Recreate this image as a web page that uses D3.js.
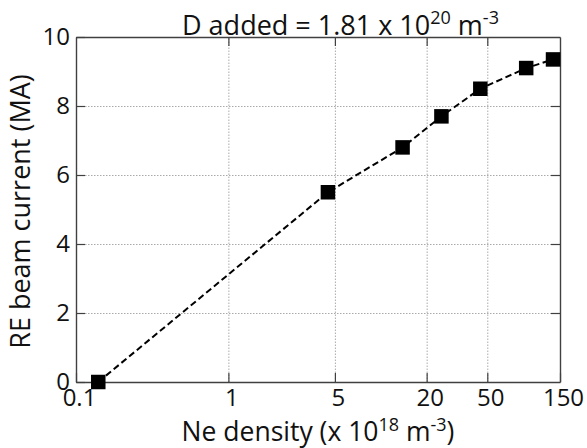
<!DOCTYPE html>
<html>
<head>
<meta charset="utf-8">
<script src="https://cdn.jsdelivr.net/npm/d3@7"></script>
<style>
  html, body { margin: 0; padding: 0; background: #fff; }
  svg { display: block; font-family: "Open Sans", "Noto Sans", sans-serif; }
</style>
</head>
<body>
<svg id="chart" width="587" height="448"></svg>
<script>
// Ne density (x 1e18 m^-3) and resulting RE beam current (MA)
const neDensity   = [0.14, 4.5, 13.9, 25, 45, 90, 135];
const beamCurrent = [0, 5.5, 6.8, 7.7, 8.5, 9.1, 9.35];

const xTickValues = [0.1, 1, 5, 20, 50, 150];
const yTickValues = [0, 2, 4, 6, 8, 10];
const xGridValues = [1, 5, 20, 50];
const yGridValues = [2, 4, 6, 8];

const W = 587, H = 448;
const margin = { top: 37, right: 27, bottom: 66, left: 76 };
const iw = W - margin.left - margin.right;
const ih = H - margin.top - margin.bottom;

const svg = d3.select("#chart");
const g = svg.append("g").attr("transform", `translate(${margin.left},${margin.top})`);

const x = d3.scaleLog().domain([0.1, 150]).range([0, iw]);
const y = d3.scaleLinear().domain([0, 10]).range([ih, 0]);

// dotted grid
const gridX = g.append("g")
  .attr("transform", `translate(0,${ih})`)
  .call(d3.axisBottom(x).tickValues(xGridValues).tickSize(-ih).tickFormat(""));
const gridY = g.append("g")
  .call(d3.axisLeft(y).tickValues(yGridValues).tickSize(-iw).tickFormat(""));
[gridX, gridY].forEach(gr => {
  gr.select(".domain").remove();
  gr.selectAll("line").attr("stroke", "#aaa").attr("stroke-width", 1).attr("stroke-dasharray", "1.5,1.5");
});

// frame axes with inward ticks
const tickLen = 9;
const axB = g.append("g").attr("transform", `translate(0,${ih})`)
  .call(d3.axisBottom(x).tickValues(xTickValues).tickFormat(d3.format("~g"))
    .tickSizeInner(-tickLen).tickSizeOuter(0).tickPadding(7));
const axT = g.append("g")
  .call(d3.axisTop(x).tickValues(xGridValues).tickFormat("")
    .tickSizeInner(-tickLen).tickSizeOuter(0));
const axL = g.append("g")
  .call(d3.axisLeft(y).tickValues(yTickValues).tickFormat(d3.format("d"))
    .tickSizeInner(-tickLen).tickSizeOuter(0).tickPadding(6));
const axR = g.append("g").attr("transform", `translate(${iw},0)`)
  .call(d3.axisRight(y).tickValues(yGridValues).tickFormat("")
    .tickSizeInner(-tickLen).tickSizeOuter(0));

[axB, axT, axL, axR].forEach(a => {
  a.select(".domain").attr("stroke", "#404040").attr("stroke-width", 1.4);
  a.selectAll(".tick line").attr("stroke", "#404040").attr("stroke-width", 1.2);
  a.selectAll(".tick text").attr("fill", "#111").style("font-size", "24px")
    .style("font-family", "'Open Sans', sans-serif");
});
axB.selectAll(".tick text").attr("dx", 3);

// data line and square markers
const pts = neDensity.map((v, i) => [v, beamCurrent[i]]);
g.append("path")
  .datum(pts)
  .attr("fill", "none")
  .attr("stroke", "#000")
  .attr("stroke-width", 2)
  .attr("stroke-dasharray", "6.5,3.5")
  .attr("d", d3.line().x(d => x(d[0])).y(d => y(d[1])));

const ms = 14.5;
g.selectAll("rect.marker")
  .data(pts)
  .join("rect")
  .attr("class", "marker")
  .attr("x", d => x(d[0]) - ms / 2)
  .attr("y", d => y(d[1]) - ms / 2)
  .attr("width", ms)
  .attr("height", ms)
  .attr("fill", "#000");

// title
const title = svg.append("text")
  .attr("x", 182).attr("y", 35)
  .attr("fill", "#111")
  .style("font-size", "27px");
title.append("tspan").text("D added = 1.81 x 10");
title.append("tspan").attr("dy", -11).style("font-size", "18px").text("20");
title.append("tspan").attr("dy", 11).text(" m");
title.append("tspan").attr("dy", -11).style("font-size", "18px").text("-3");

// x-axis label
const xl = svg.append("text")
  .attr("x", margin.left + iw / 2).attr("y", 441)
  .attr("text-anchor", "middle")
  .attr("fill", "#111")
  .style("font-size", "26.5px");
xl.append("tspan").text("Ne density (x 10");
xl.append("tspan").attr("dy", -10).style("font-size", "18px").text("18");
xl.append("tspan").attr("dy", 10).text(" m");
xl.append("tspan").attr("dy", -10).style("font-size", "18px").text("-3");
xl.append("tspan").attr("dy", 10).text(")");

// y-axis label
svg.append("text")
  .attr("transform", `translate(30,${margin.top + ih / 2 + 2}) rotate(-90)`)
  .attr("text-anchor", "middle")
  .attr("fill", "#111")
  .style("font-size", "27px")
  .text("RE beam current (MA)");
</script>
</body>
</html>
